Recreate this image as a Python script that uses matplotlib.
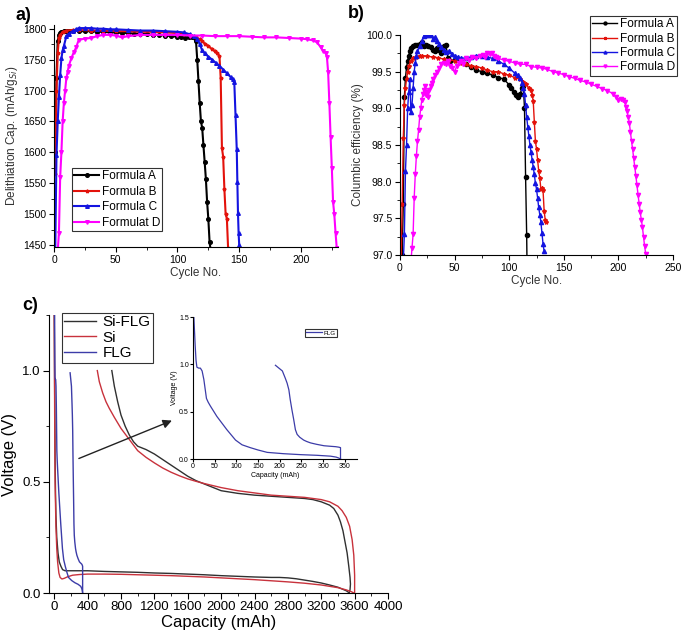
import matplotlib
matplotlib.use("Agg")
import matplotlib.pyplot as plt
from matplotlib.ticker import MultipleLocator

plt.rcParams['font.family'] = ['Liberation Sans', 'DejaVu Sans']

# ---- panel a: delithiation capacity vs cycle ----
a_cyc_A = [1, 2, 3, 4, 5, 6, 8, 10, 12, 15, 20, 25, 30, 35, 40, 45, 50, 55, 60, 65, 70, 75, 80, 85, 90, 95, 100,
           103, 106, 109, 112, 114, 115, 116, 117, 118, 119, 120, 121, 122, 123, 124, 125, 126, 127]
a_cap_A = [1600, 1720, 1780, 1790, 1793, 1795, 1796, 1797, 1797, 1797, 1796, 1796, 1796, 1795, 1795, 1794, 1794,
           1793, 1793, 1792, 1792, 1791, 1790, 1790, 1789, 1788, 1787, 1786, 1785, 1786, 1786, 1785, 1780, 1750,
           1715, 1680, 1650, 1640, 1612, 1585, 1557, 1520, 1492, 1455, 1440]
a_cyc_B = [1, 2, 3, 4, 5, 7, 10, 15, 20, 30, 40, 50, 60, 70, 80, 90, 100, 105, 110, 115, 118, 120, 122, 125, 128,
           130, 132, 134, 135, 136, 137, 138, 139, 140, 141]
a_cap_B = [1565, 1700, 1760, 1785, 1790, 1795, 1797, 1798, 1798, 1797, 1797, 1796, 1796, 1795, 1795, 1794, 1793,
           1792, 1790, 1786, 1783, 1780, 1776, 1772, 1767, 1764, 1760, 1756, 1720, 1607, 1593, 1540, 1500, 1493, 1445]
a_cyc_C = [1, 2, 3, 4, 5, 6, 7, 8, 10, 12, 15, 18, 20, 25, 30, 35, 40, 45, 50, 60, 70, 80, 90, 100, 105, 110, 113,
           116, 118, 120, 122, 125, 128, 131, 134, 137, 140, 143, 145, 146, 147, 148, 148.5, 149, 149.5, 150]
a_cap_C = [1440, 1595, 1650, 1690, 1725, 1752, 1765, 1772, 1788, 1792, 1796, 1799, 1801, 1801, 1801, 1800, 1800,
           1799, 1799, 1798, 1797, 1797, 1796, 1795, 1794, 1791, 1788, 1784, 1775, 1765, 1760, 1755, 1750, 1745,
           1740, 1734, 1728, 1722, 1718, 1714, 1660, 1605, 1552, 1502, 1470, 1450]
a_cyc_D = [3, 4, 5, 6, 7, 8, 9, 10, 11, 12, 14, 16, 18, 20, 25, 30, 35, 40, 45, 50, 55, 60, 70, 80, 90, 100, 110,
           120, 130, 140, 150, 160, 170, 180, 190, 200, 205, 210, 213, 216, 218, 220, 221, 222, 223, 224, 225, 226,
           227, 228, 229]
a_cap_D = [1440, 1470, 1560, 1600, 1650, 1680, 1700, 1720, 1730, 1740, 1752, 1762, 1770, 1782, 1784, 1785, 1788,
           1790, 1790, 1789, 1786, 1788, 1790, 1790, 1790, 1790, 1789, 1789, 1788, 1788, 1788, 1787, 1786, 1786,
           1785, 1784, 1783, 1781, 1778, 1770, 1764, 1760, 1755, 1730, 1680, 1625, 1575, 1520, 1500, 1470, 1445]

# ---- panel b: columbic efficiency vs cycle ----
b_cyc_A = [2, 3, 4, 5, 6, 7, 8, 9, 10, 12, 14, 16, 18, 20, 22, 24, 26, 28, 30, 32, 34, 36, 38, 40, 42, 44, 46, 50,
           55, 60, 65, 70, 75, 80, 85, 90, 95, 100, 102, 104, 106, 108, 110, 112, 113, 114, 115, 116, 116.3]
b_ce_A = [97.0, 97.7, 99.15, 99.42, 99.56, 99.65, 99.72, 99.78, 99.82, 99.85, 99.87, 99.87, 99.88, 99.9, 99.85,
          99.87, 99.85, 99.84, 99.8, 99.78, 99.82, 99.8, 99.76, 99.85, 99.87, 99.68, 99.65, 99.66, 99.64, 99.6,
          99.56, 99.52, 99.5, 99.48, 99.45, 99.42, 99.4, 99.32, 99.28, 99.22, 99.18, 99.16, 99.2, 99.28, 99.3,
          99.0, 98.07, 97.27, 96.9]
b_cyc_B = [1, 2, 3, 4, 5, 6, 7, 8, 10, 12, 15, 18, 20, 25, 30, 35, 40, 45, 50, 55, 60, 65, 70, 75, 80, 85, 90, 95,
           100, 105, 110, 113, 115, 118, 120, 121, 122, 123, 124, 125, 126, 127, 128, 129, 130, 131, 132, 133, 134]
b_ce_B = [96.9, 97.7, 98.6, 99.05, 99.28, 99.4, 99.5, 99.58, 99.65, 99.68, 99.7, 99.72, 99.72, 99.71, 99.7, 99.69,
          99.67, 99.66, 99.65, 99.62, 99.6, 99.58, 99.57, 99.55, 99.52, 99.5, 99.5, 99.47, 99.45, 99.42, 99.4,
          99.36, 99.33, 99.28, 99.25, 99.18, 99.1, 98.82, 98.55, 98.45, 98.3, 98.15, 98.05, 97.9, 97.92, 97.88,
          97.6, 97.48, 97.45]
b_cyc_C = [3, 4, 5, 6, 7, 8, 9, 10, 11, 12, 13, 14, 15, 16, 18, 20, 22, 24, 26, 28, 30, 32, 34, 36, 38, 40, 42, 45,
           48, 50, 53, 56, 60, 65, 70, 75, 80, 85, 90, 95, 100, 105, 108, 110, 112, 113, 114, 115, 116, 117, 118,
           119, 120, 121, 122, 123, 124, 125, 126, 127, 128, 129, 130, 131, 132]
b_ce_C = [96.9, 97.28, 98.15, 98.5, 99.0, 99.22, 99.4, 98.95, 99.05, 99.28, 99.5, 99.62, 99.72, 99.78, 99.85,
          99.92, 99.99, 100.0, 100.0, 100.0, 99.95, 99.97, 99.92, 99.88, 99.84, 99.8, 99.77, 99.78, 99.74, 99.72,
          99.7, 99.68, 99.69, 99.7, 99.72, 99.71, 99.7, 99.68, 99.65, 99.6, 99.55, 99.48, 99.45, 99.42, 99.35,
          99.28, 99.2, 99.05, 98.88, 98.75, 98.62, 98.5, 98.4, 98.3, 98.2, 98.1, 97.98, 97.9, 97.78, 97.65, 97.55,
          97.45, 97.3, 97.15, 97.05]
b_cyc_D = [10, 11, 12, 13, 14, 15, 16, 17, 18, 19, 20, 21, 22, 23, 24, 25, 26, 27, 28, 29, 30, 32, 34, 36, 38, 40,
           42, 44, 46, 48, 50, 52, 54, 56, 58, 60, 63, 66, 70, 73, 76, 78, 80, 82, 84, 86, 88, 90, 95, 100, 105,
           110, 115, 120, 125, 130, 135, 140, 145, 150, 155, 160, 165, 170, 175, 180, 185, 190, 195, 198, 200, 202,
           204, 206, 207, 208, 209, 210, 211, 212, 213, 214, 215, 216, 217, 218, 219, 220, 221, 222, 223, 224, 225]
b_ce_D = [96.9, 97.1, 97.28, 97.78, 98.1, 98.35, 98.55, 98.7, 98.88, 99.0, 99.12, 99.2, 99.25, 99.3, 99.18, 99.22,
          99.15, 99.25, 99.3, 99.35, 99.4, 99.45, 99.5, 99.55, 99.6, 99.62, 99.6, 99.65, 99.58, 99.55, 99.5, 99.58,
          99.62, 99.65, 99.6, 99.68, 99.66, 99.7, 99.68, 99.72, 99.73, 99.7, 99.75, 99.74, 99.76, 99.72, 99.7,
          99.68, 99.66, 99.64, 99.62, 99.6, 99.6, 99.57, 99.56, 99.55, 99.53, 99.5, 99.48, 99.46, 99.43, 99.41,
          99.38, 99.36, 99.33, 99.3, 99.27, 99.24, 99.2, 99.16, 99.12, 99.13, 99.12, 99.08, 99.02, 98.96, 98.88,
          98.8, 98.68, 98.55, 98.45, 98.32, 98.2, 98.08, 97.95, 97.82, 97.7, 97.58, 97.48, 97.38, 97.25, 97.12, 97.02]

# ---- panel c: voltage profiles ----
sifl_dis_cap = [0, 5, 10, 15, 20, 30, 45, 60, 80, 100, 130, 160, 200, 300, 400, 600, 800, 1000, 1200, 1400, 1600,
                1800, 2000, 2200, 2400, 2600, 2700, 2800, 2900, 3000, 3100, 3200, 3300, 3400, 3450, 3500, 3530]
sifl_dis_v = [1.25, 0.9, 0.6, 0.45, 0.35, 0.25, 0.18, 0.14, 0.12, 0.105, 0.1, 0.1, 0.1, 0.1, 0.1, 0.097, 0.095,
              0.093, 0.09, 0.088, 0.085, 0.082, 0.078, 0.075, 0.072, 0.07, 0.07, 0.068, 0.064, 0.058, 0.052, 0.045,
              0.036, 0.026, 0.018, 0.01, 0.002]
sifl_ch_cap = [690, 720, 760, 800, 850, 900, 950, 1000, 1100, 1200, 1300, 1400, 1500, 1600, 1700, 1800, 1900,
               2000, 2200, 2400, 2600, 2800, 3000, 3100, 3200, 3300, 3350, 3400, 3430, 3460, 3490, 3510, 3530, 3545,
               3550, 3545, 3535]
sifl_ch_v = [1.0, 0.93, 0.86, 0.8, 0.75, 0.71, 0.68, 0.66, 0.645, 0.625, 0.6, 0.575, 0.55, 0.525, 0.505, 0.49,
             0.475, 0.46, 0.448, 0.44, 0.435, 0.43, 0.425, 0.42, 0.41, 0.395, 0.38, 0.35, 0.32, 0.28, 0.22, 0.18,
             0.12, 0.07, 0.04, 0.015, 0.0]
si_dis_cap = [0, 5, 10, 20, 30, 40, 55, 70, 92, 120, 160, 220, 300, 400, 600, 800, 1000, 1200, 1400, 1600, 1800,
              2000, 2200, 2400, 2600, 2800, 3000, 3200, 3400, 3500, 3560, 3590]
si_dis_v = [1.25, 0.8, 0.5, 0.3, 0.2, 0.14, 0.09, 0.07, 0.063, 0.066, 0.073, 0.08, 0.083, 0.085, 0.085, 0.084,
            0.082, 0.08, 0.078, 0.075, 0.072, 0.068, 0.064, 0.06, 0.055, 0.05, 0.044, 0.036, 0.024, 0.014, 0.006, 0.0]
si_ch_cap = [516, 540, 580, 620, 660, 720, 800, 900, 1000, 1100, 1200, 1300, 1400, 1500, 1600, 1700, 1800, 2000,
             2200, 2400, 2600, 2800, 3000, 3200, 3300, 3400, 3450, 3500, 3540, 3570, 3590, 3600, 3600]
si_ch_v = [1.0, 0.95, 0.9, 0.86, 0.83, 0.79, 0.74, 0.69, 0.64, 0.61, 0.585, 0.562, 0.543, 0.527, 0.513, 0.502,
           0.492, 0.474, 0.46, 0.45, 0.44, 0.435, 0.43, 0.42, 0.41, 0.39, 0.37, 0.34, 0.3, 0.24, 0.17, 0.08, 0.0]
flg_dis_cap = [0, 2, 5, 7, 9, 13, 17, 21, 25, 28, 31, 35, 40, 55, 78, 98, 113, 132, 150, 171, 209, 248, 286, 317,
               330, 336, 340]
flg_dis_v = [1.5, 1.5, 1.2, 1.04, 0.97, 0.96, 0.96, 0.93, 0.84, 0.74, 0.64, 0.6, 0.56, 0.45, 0.31, 0.2, 0.15, 0.12,
             0.095, 0.07, 0.056, 0.046, 0.039, 0.03, 0.02, 0.01, 0.0]
flg_ch_cap = [340, 340, 336, 329, 315, 302, 285, 271, 262, 255, 246, 240, 236, 232, 228, 224, 221, 217, 213, 206,
              198, 190]
flg_ch_v = [0.0, 0.12, 0.125, 0.13, 0.135, 0.14, 0.155, 0.17, 0.185, 0.2, 0.23, 0.26, 0.31, 0.42, 0.52, 0.63,
            0.73, 0.8, 0.85, 0.93, 0.96, 0.99]

W, H = 685, 636
fig = plt.figure(figsize=(W / 100, H / 100), dpi=100)


def box(l, t, r, b):
    # pixel box -> figure fraction rect
    return [l / W, 1 - b / H, (r - l) / W, (b - t) / H]


def origin_style(ax, fs):
    ax.spines['top'].set_visible(False)
    ax.spines['right'].set_visible(False)
    ax.tick_params(which='both', direction='out', labelsize=fs, pad=2)
    ax.tick_params(which='major', length=3.5)
    ax.tick_params(which='minor', length=2)


def add_legend(ax, anchor, loc='upper left', **kw):
    opts = dict(fontsize=8.5, frameon=True, fancybox=False, edgecolor='black', borderpad=0.2,
                labelspacing=0.15, handlelength=2.1, handletextpad=0.2, borderaxespad=0)
    opts.update(kw)
    leg = fig.legend(*ax.get_legend_handles_labels(), loc=loc, bbox_to_anchor=anchor, **opts)
    leg.get_frame().set_linewidth(0.8)
    return leg


colors = ['#000000', '#e3120b', '#1414e0', '#ff00ff']
markers = ['o', '*', '^', 'v']

# panel a
ax1 = fig.add_axes(box(54, 25, 338, 247))
series_a = [(a_cyc_A, a_cap_A, 'Formula A'), (a_cyc_B, a_cap_B, 'Formula B'),
            (a_cyc_C, a_cap_C, 'Formula C'), (a_cyc_D, a_cap_D, 'Formulat D')]
for (x, y, lab), c, m in zip(series_a, colors, markers):
    ax1.plot(x, y, color=c, marker=m, ms=2.6, lw=1.5, label=lab)
ax1.set_xlim(0, 230)
ax1.set_ylim(1447, 1806)
ax1.xaxis.set_major_locator(MultipleLocator(50))
ax1.xaxis.set_minor_locator(MultipleLocator(25))
ax1.yaxis.set_major_locator(MultipleLocator(50))
ax1.yaxis.set_minor_locator(MultipleLocator(25))
origin_style(ax1, 7.5)
ax1.set_xlabel('Cycle No.', fontsize=8.5, color='#333333', labelpad=2)
ax1.set_ylabel('Delithiation Cap. (mAh/g$_{Si}$)', fontsize=8.5, color='#333333', labelpad=2)
add_legend(ax1, (72 / W, 1 - 168 / H), labelspacing=0.3)

# panel b
ax2 = fig.add_axes(box(400, 35, 673, 255))
series_b = [(b_cyc_A, b_ce_A, 'Formula A'), (b_cyc_B, b_ce_B, 'Formula B'),
            (b_cyc_C, b_ce_C, 'Formula C'), (b_cyc_D, b_ce_D, 'Formula D')]
for (x, y, lab), c, m in zip(series_b, colors, markers):
    ax2.plot(x, y, color=c, marker=m, ms=3, lw=1.0, label=lab)
ax2.set_xlim(0, 250)
ax2.set_ylim(97.0, 100.0)
ax2.xaxis.set_major_locator(MultipleLocator(50))
ax2.xaxis.set_minor_locator(MultipleLocator(25))
ax2.yaxis.set_major_locator(MultipleLocator(0.5))
ax2.yaxis.set_minor_locator(MultipleLocator(0.25))
ax2.yaxis.set_major_formatter(plt.FormatStrFormatter('%.1f'))
origin_style(ax2, 7.5)
ax2.set_xlabel('Cycle No.', fontsize=8.5, color='#333333', labelpad=2)
ax2.set_ylabel('Columbic efficiency (%)', fontsize=8.5, color='#333333', labelpad=2)
add_legend(ax2, (677 / W, 1 - 16 / H), loc='upper right', markerscale=0.7, labelspacing=0.2)

# panel c
ax3 = fig.add_axes(box(49, 315, 388, 593))
c_black, c_red, c_blue = '#303030', '#c8323c', '#3c3ca8'
ax3.plot(sifl_dis_cap, sifl_dis_v, color=c_black, lw=1.0, label='Si-FLG')
ax3.plot(sifl_ch_cap, sifl_ch_v, color=c_black, lw=1.0)
ax3.plot(si_dis_cap, si_dis_v, color=c_red, lw=1.0, label='Si')
ax3.plot(si_ch_cap, si_ch_v, color=c_red, lw=1.0)
ax3.plot(flg_dis_cap, flg_dis_v, color=c_blue, lw=1.0, label='FLG')
ax3.plot(flg_ch_cap, flg_ch_v, color=c_blue, lw=1.0)
ax3.set_xlim(-63, 4000)
ax3.set_ylim(0, 1.25)
ax3.xaxis.set_major_locator(MultipleLocator(400))
ax3.xaxis.set_minor_locator(MultipleLocator(200))
ax3.yaxis.set_major_locator(MultipleLocator(0.5))
ax3.yaxis.set_minor_locator(MultipleLocator(0.25))
ax3.yaxis.set_major_formatter(plt.FormatStrFormatter('%.1f'))
origin_style(ax3, 9.5)
ax3.tick_params(which='major', length=4)
ax3.set_xlabel('Capacity (mAh)', fontsize=12, labelpad=1)
ax3.set_ylabel('Voltage (V)', fontsize=12, labelpad=4)
ax3.annotate('', xy=(1441, 0.78), xytext=(264, 0.60),
             arrowprops=dict(arrowstyle='-|>', color='#222222', lw=1.0, mutation_scale=13))
add_legend(ax3, (62 / W, 1 - 313 / H), fontsize=11, borderpad=0.15, labelspacing=0.1,
           handlelength=2.1, handletextpad=0.4)

# inset
ax4 = fig.add_axes(box(193, 317, 357, 459))
ax4.plot(flg_dis_cap, flg_dis_v, color=c_blue, lw=0.9, label='FLG')
ax4.plot(flg_ch_cap, flg_ch_v, color=c_blue, lw=0.9)
ax4.set_xlim(0, 378)
ax4.set_ylim(0, 1.5)
ax4.xaxis.set_major_locator(MultipleLocator(50))
ax4.yaxis.set_major_locator(MultipleLocator(0.5))
ax4.yaxis.set_major_formatter(plt.FormatStrFormatter('%.1f'))
origin_style(ax4, 5)
ax4.tick_params(which='major', length=2, pad=1)
ax4.set_xlabel('Capacity (mAh)', fontsize=5, labelpad=1)
ax4.set_ylabel('Voltage (V)', fontsize=5, labelpad=1)
add_legend(ax4, (305 / W, 1 - 329 / H), fontsize=4.5, handlelength=2.5)

# panel letters
fig.text(16 / W, 1 - 15 / H, 'a)', fontsize=13, fontweight='bold', va='center')
fig.text(348 / W, 1 - 13 / H, 'b)', fontsize=13, fontweight='bold', va='center')
fig.text(22 / W, 1 - 306 / H, 'c)', fontsize=13, fontweight='bold', va='center')

fig.savefig('out.png', dpi=100)
